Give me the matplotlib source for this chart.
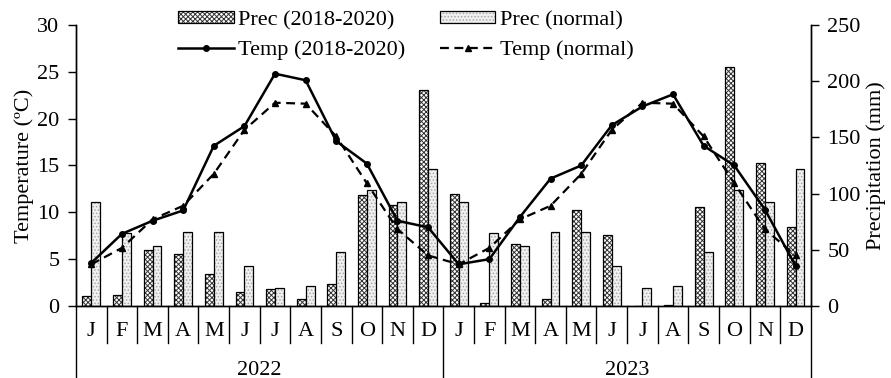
import numpy as np
import matplotlib
matplotlib.use('Agg')
import matplotlib.pyplot as plt
import matplotlib.transforms as mtransforms

plt.rcParams['font.family'] = ['Liberation Serif', 'DejaVu Serif']
plt.rcParams['font.size'] = 16
plt.rcParams['hatch.linewidth'] = 0.7

# data
months = ['J', 'F', 'M', 'A', 'M', 'J', 'J', 'A', 'S', 'O', 'N', 'D']
years = ['2022', '2023']
prec_obs = [9.2, 9.8, 49.8, 46.0, 28.2, 12.7, 15.1, 6.2, 19.8, 99.0, 89.9, 191.8,
            99.6, 3.0, 55.0, 6.2, 85.7, 63.5, 0.0, 0.5, 88.4, 212.6, 127.0, 70.3]
prec_normal_month = [92.8, 64.7, 53.6, 65.5, 65.5, 35.9, 15.8, 17.8, 48.3, 102.8, 92.5, 121.8]
temp_obs = [4.6, 7.7, 9.1, 10.2, 17.1, 19.2, 24.8, 24.1, 17.6, 15.2, 9.1, 8.4,
            4.45, 5.0, 9.5, 13.6, 15.0, 19.3, 21.3, 22.6, 17.1, 15.0, 10.3, 4.3]
temp_normal_month = [4.45, 6.2, 9.25, 10.7, 14.1, 18.8, 21.7, 21.6, 18.1, 13.1, 8.2, 5.4]

prec_normal = prec_normal_month * len(years)
temp_normal = temp_normal_month * len(years)
x = np.arange(len(prec_obs))
w = 0.29

fig = plt.figure(figsize=(8.91, 3.78), dpi=100)
ax = fig.add_axes([0.0853, 0.1905, 0.8247, 0.7434])
ax2 = ax.twinx()
ax.set_zorder(ax2.get_zorder() + 1)
ax.patch.set_visible(False)

# -precipitation bars on the right axis
b1h = ax2.bar(x - w / 2, prec_obs, w, facecolor='white', edgecolor='#333333', hatch='xxxxxxx', linewidth=0)
b1o = ax2.bar(x - w / 2, prec_obs, w, fill=False, edgecolor='black', linewidth=0.9)
b2h = ax2.bar(x + w / 2, prec_normal, w, facecolor='#f0f0f0', edgecolor='#a8a8a8', hatch='.....', linewidth=0)
b2o = ax2.bar(x + w / 2, prec_normal, w, fill=False, edgecolor='black', linewidth=0.9)

# -temperature lines on the left axis
l1, = ax.plot(x, temp_obs, '-', color='black', lw=1.8, marker='o', ms=4)
l2, = ax.plot(x, temp_normal, '--', color='black', lw=1.6, marker='^', ms=5, dashes=(4, 2.5))

ax.set_xlim(-0.5, len(x) - 0.5)
ax.set_ylim(0, 30)
ax2.set_ylim(0, 250)
ax.set_yticks(range(0, 31, 5))
ax2.set_yticks(range(0, 251, 50))
ax.set_xticks([])
ax2.set_xticks([])
ax.set_ylabel('Temperature (ºC)', labelpad=2)
ax2.set_ylabel('Precipitation (mm)', labelpad=4)
for a in (ax, ax2):
    a.spines['top'].set_visible(False)
    a.tick_params(axis='y', direction='out', length=6, width=1, pad=6)
    for s in a.spines.values():
        s.set_linewidth(1)

# -month / year labels under the axis
trans = mtransforms.blended_transform_factory(ax.transData, ax.transAxes)
for i in range(len(x) + 1):
    if i % 12 == 0:
        ax.plot([i - 0.5, i - 0.5], [0, -0.26], transform=trans, color='black', lw=1, clip_on=False)
    else:
        ax.plot([i - 0.5, i - 0.5], [0, -0.132], transform=trans, color='black', lw=1, clip_on=False)
for i in x:
    ax.text(i, -0.091, months[i % 12], transform=trans, ha='center', va='center')
for k, yr in enumerate(years):
    ax.text(12 * k + 5.5, -0.228, yr, transform=trans, ha='center', va='center')

# -legend (column-major order so rows read Prec / Temp)
fig.legend([(b1h, b1o), l1, (b2h, b2o), l2],
           ['Prec (2018-2020)', 'Temp (2018-2020)', 'Prec (normal)', 'Temp (normal)'],
           ncol=2, frameon=False, loc='upper left', bbox_to_anchor=(0.19, 0.995),
           handlelength=2.5, handleheight=0.4, handletextpad=0.2, columnspacing=1.55,
           labelspacing=0.45, borderaxespad=0)

fig.savefig('out.png', dpi=100)
